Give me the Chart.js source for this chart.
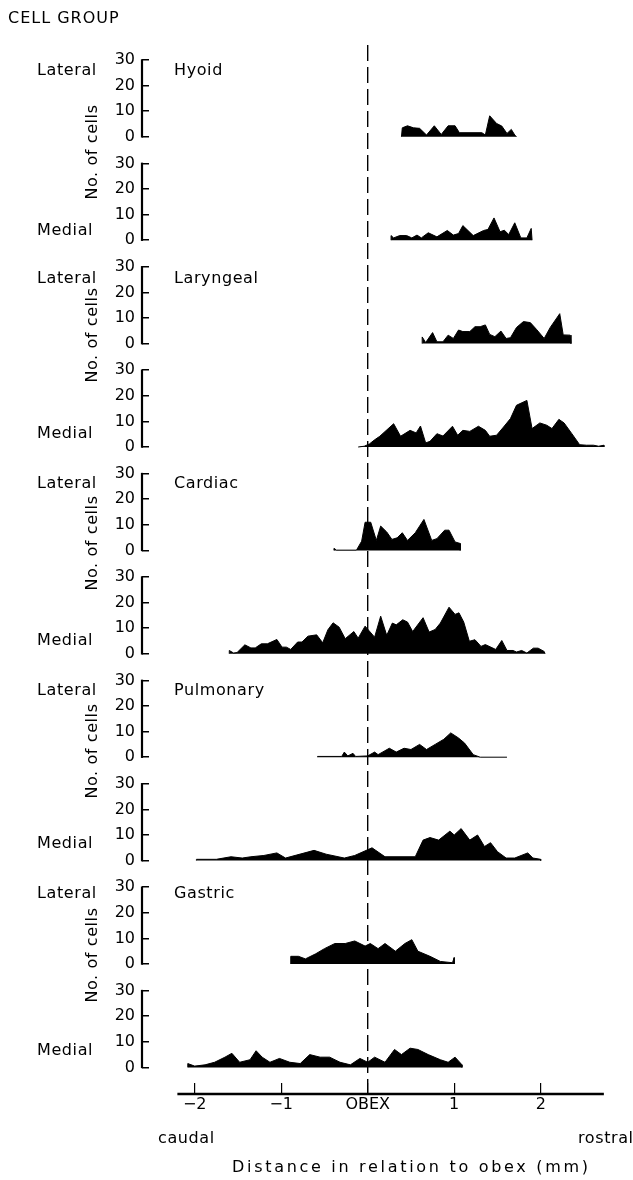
<!DOCTYPE html>
<html><head><meta charset="utf-8">
<script src="https://cdn.jsdelivr.net/npm/chart.js@4.4.1/dist/chart.umd.min.js"></script>
<style>
html,body{margin:0;padding:0;background:#fff;}
#wrap{position:relative;width:633px;height:1180px;overflow:hidden;font-family:"DejaVu Sans",sans-serif;color:#000;}
canvas{position:absolute;left:0;top:0;}
.t{position:absolute;font-size:16px;line-height:16px;white-space:nowrap;letter-spacing:0.6px;transform:translateY(-50%);}
.rot{transform:translate(-50%,-50%) rotate(-90deg);}
</style></head><body>
<div id="wrap"><canvas id="c" width="633" height="1180"></canvas></div>
<script>
// ---- data (x in mm relative to obex, y = number of cells) ----
const groups = ['Hyoid','Laryngeal','Cardiac','Pulmonary','Gastric'];
const xTickValues = [-2,-1,0,1,2];
const xTickLabels = ['\u22122','\u22121','OBEX','1','2'];
const yTickValues = [0,10,20,30];

const hyoidLateral = [[0.39,0],[0.40,3.5],[0.46,4.3],[0.53,3.5],[0.60,3.3],[0.68,0.7],[0.77,4.3],[0.85,0.9],[0.93,4.3],[1.01,4.3],[1.06,1.6],[1.32,1.6],[1.36,0.7],[1.41,8.2],[1.49,5.2],[1.55,4.2],[1.61,1.3],[1.66,2.9],[1.70,0.7],[1.72,0]];
const hyoidMedial = [[0.27,0],[0.27,1.8],[0.30,0.9],[0.37,1.8],[0.45,1.8],[0.51,0.9],[0.57,2.0],[0.62,0.9],[0.70,2.9],[0.80,1.3],[0.92,3.8],[0.99,2.0],[1.05,2.6],[1.10,5.7],[1.22,1.8],[1.34,3.8],[1.39,4.2],[1.46,8.7],[1.53,3.3],[1.58,3.9],[1.63,2.2],[1.70,6.8],[1.77,0.9],[1.84,0.9],[1.89,4.6],[1.90,0]];
const laryngealLateral = [[0.63,0],[0.63,2.6],[0.67,0.4],[0.75,4.3],[0.80,0.7],[0.87,0.7],[0.93,3.3],[0.99,2.0],[1.05,5.3],[1.10,4.7],[1.18,4.7],[1.24,6.6],[1.30,6.6],[1.36,7.3],[1.41,3.6],[1.47,2.7],[1.54,4.9],[1.60,2.0],[1.65,2.3],[1.72,6.3],[1.80,8.6],[1.88,8.2],[1.95,5.6],[2.04,2.0],[2.11,6.3],[2.22,11.7],[2.26,3.4],[2.34,3.3],[2.35,0]];
const laryngealMedial = [[-0.11,0],[-0.04,0.3],[0.02,1.2],[0.08,2.8],[0.14,4.2],[0.30,9.1],[0.38,4.2],[0.49,6.5],[0.56,5.5],[0.61,8.2],[0.67,1.6],[0.72,2.2],[0.80,5.2],[0.87,4.3],[0.98,8.1],[1.04,4.6],[1.10,6.5],[1.18,6.1],[1.28,8.1],[1.36,6.5],[1.41,4.2],[1.49,4.6],[1.57,7.8],[1.65,11.1],[1.72,16.3],[1.84,18.2],[1.90,7.2],[1.99,9.4],[2.07,8.5],[2.13,7.2],[2.21,10.8],[2.27,9.4],[2.36,5.2],[2.45,0.9],[2.53,0.7],[2.61,0.7],[2.67,0.3],[2.73,0.7],[2.73,0]];
const cardiacLateral = [[-0.39,0],[-0.39,0.8],[-0.36,0.1],[-0.13,0.1],[-0.07,3.6],[-0.03,11.0],[0.035,11.0],[0.10,3.9],[0.15,9.5],[0.22,7.2],[0.28,4.3],[0.34,4.9],[0.40,6.9],[0.46,3.9],[0.55,6.9],[0.65,12.1],[0.74,3.9],[0.80,4.6],[0.89,7.9],[0.94,7.9],[1.01,3.3],[1.07,2.7],[1.07,0]];
const cardiacMedial = [[-1.60,0],[-1.60,1.3],[-1.55,0.3],[-1.51,0.5],[-1.42,3.5],[-1.35,2.3],[-1.30,2.3],[-1.23,3.9],[-1.16,3.9],[-1.05,5.6],[-0.99,2.6],[-0.94,2.6],[-0.89,1.7],[-0.81,4.6],[-0.76,4.6],[-0.69,6.9],[-0.59,7.4],[-0.52,4.3],[-0.46,9.4],[-0.40,12.1],[-0.33,10.4],[-0.26,5.9],[-0.16,8.7],[-0.11,6.1],[-0.03,10.8],[0.08,6.5],[0.15,14.7],[0.22,7.2],[0.285,12.0],[0.33,11.3],[0.405,13.3],[0.46,12.4],[0.52,8.7],[0.64,14.1],[0.71,8.5],[0.78,9.5],[0.84,12.0],[0.94,18.2],[1.01,15.4],[1.055,16.0],[1.11,12.4],[1.175,4.9],[1.24,5.5],[1.31,2.9],[1.36,3.6],[1.48,1.7],[1.55,5.2],[1.61,1.3],[1.68,1.3],[1.72,0.7],[1.78,1.3],[1.84,0.3],[1.915,2.2],[1.97,2.2],[2.04,0.9],[2.05,0]];
const pulmonaryLateral = [[-0.58,0],[-0.58,0.3],[-0.30,0.3],[-0.27,2],[-0.23,0.5],[-0.17,1.5],[-0.14,0.3],[0.0,0.5],[0.08,2],[0.12,1],[0.25,3.5],[0.33,2],[0.42,3.5],[0.5,3],[0.6,5],[0.68,3],[0.78,5],[0.88,7],[0.96,9.5],[1.05,7.5],[1.12,5.5],[1.22,1],[1.30,0],[1.61,0]];
const pulmonaryMedial = [[-1.98,0],[-1.98,0.5],[-1.75,0.5],[-1.58,1.5],[-1.45,1],[-1.35,1.5],[-1.20,2],[-1.05,3],[-0.95,1],[-0.62,4],[-0.48,2.5],[-0.27,1],[-0.15,2],[0.05,5],[0.2,1.5],[0.55,1.5],[0.64,8],[0.72,9],[0.82,8],[0.95,11.5],[1.0,10],[1.08,12.5],[1.18,8],[1.27,10],[1.35,5.5],[1.42,7],[1.5,3.5],[1.6,1],[1.7,1],[1.85,3],[1.91,1],[2.0,0.5],[2.0,0]];
const gastricLateral = [[-0.89,0],[-0.89,3],[-0.80,3],[-0.72,2],[-0.6,4],[-0.5,6],[-0.38,8],[-0.26,8],[-0.15,9],[-0.03,7],[0.03,8],[0.12,6],[0.2,8],[0.32,5],[0.43,8],[0.51,9.5],[0.58,5],[0.72,3],[0.84,1],[0.98,0.5],[1.0,2.5],[1.0,0]];
const gastricMedial = [[-2.08,0],[-2.08,1.5],[-2.0,0.5],[-1.88,1],[-1.77,2],[-1.65,4],[-1.57,5.5],[-1.48,2],[-1.36,3],[-1.29,6.5],[-1.22,4],[-1.13,2],[-1.02,3.5],[-0.90,2],[-0.78,1.5],[-0.67,5],[-0.55,4],[-0.44,4],[-0.32,2],[-0.2,1],[-0.09,3.5],[0.0,2],[0.08,4],[0.2,2],[0.31,7],[0.39,5],[0.49,7.5],[0.58,7],[0.70,5],[0.84,3],[0.93,2],[1.01,4],[1.09,1],[1.09,0]];

const panels = [hyoidLateral, hyoidMedial, laryngealLateral, laryngealMedial, cardiacLateral, cardiacMedial, pulmonaryLateral, pulmonaryMedial, gastricLateral, gastricMedial];
const panelIds = panels.map((_, i) => 'y' + i);

// ---- chart ----
const FONT = {family: '"DejaVu Sans", sans-serif', size: 16};
const X_MIN = -2.609, X_MAX = 2.824, AXIS_FROM = -2.2, AXIS_TO = 2.73;
const Y_MIN = -10.39, Y_MAX = 30;

const scales = {
  x: {
    type: 'linear', position: 'bottom', min: X_MIN, max: X_MAX,
    border: {display: false},
    grid: {display: true, drawOnChartArea: false, drawTicks: true, tickLength: -11, color: '#000', lineWidth: 1.2},
    ticks: {color: '#000', font: FONT, padding: 12, maxRotation: 0, autoSkip: false,
      callback: (v, i) => xTickLabels[i]},
    afterBuildTicks: s => { s.ticks = xTickValues.map(v => ({value: v})); },
    afterFit: s => { s.height = 86; }
  }
};
// stacked axes are laid out in reverse definition order, so define bottom panel first
panelIds.slice().reverse().forEach(id => {
  scales[id] = {
    type: 'linear', position: 'left', stack: 'panels', stackWeight: 1,
    min: Y_MIN, max: Y_MAX,
    border: {display: false},
    grid: {display: true, drawOnChartArea: false, drawTicks: true, tickLength: -7, color: '#000', lineWidth: 1.5},
    ticks: {color: '#000', font: FONT, padding: 14, includeBounds: false, autoSkip: false, callback: v => String(v)},
    afterBuildTicks: s => { s.ticks = yTickValues.map(v => ({value: v})); },
    afterFit: s => { s.width = 142; }
  };
});

const decor = {
  id: 'decor',
  afterDatasetsDraw(chart) {
    const ctx = chart.ctx, xs = chart.scales.x;
    ctx.save();
    ctx.strokeStyle = '#000';
    ctx.lineCap = 'butt';
    panelIds.forEach(id => {
      const s = chart.scales[id];
      ctx.lineWidth = 2.2;
      ctx.beginPath();
      ctx.moveTo(s.right, s.getPixelForValue(0) + 0.75);
      ctx.lineTo(s.right, s.getPixelForValue(30) - 0.75);
      ctx.stroke();
    });
    const yAxis = xs.top;
    ctx.lineWidth = 2.6;
    ctx.beginPath();
    ctx.moveTo(xs.getPixelForValue(AXIS_FROM), yAxis);
    ctx.lineTo(xs.getPixelForValue(AXIS_TO), yAxis);
    ctx.stroke();
    const x0 = xs.getPixelForValue(0);
    ctx.lineWidth = 1.4;
    ctx.setLineDash([16, 6]);
    ctx.beginPath();
    ctx.moveTo(x0, chart.chartArea.top - 15);
    ctx.lineTo(x0, yAxis);
    ctx.stroke();
    ctx.restore();
  }
};

new Chart(document.getElementById('c'), {
  type: 'line',
  data: {
    datasets: panels.map((p, i) => ({
      label: panelIds[i],
      yAxisID: panelIds[i],
      data: p.map(([x, y]) => ({x, y})),
      borderColor: '#000', backgroundColor: '#000', borderWidth: 1,
      pointRadius: 0, tension: 0, fill: 'origin'
    }))
  },
  options: {
    responsive: false, animation: false,
    layout: {padding: {top: 60, right: 21, left: 0, bottom: 0}},
    plugins: {legend: {display: false}, tooltip: {enabled: false}, title: {display: false}},
    scales
  },
  plugins: [decor]
});

// ---- text annotations ----
const wrap = document.getElementById('wrap');
function addText(txt, x, y, cls, extra) {
  const d = document.createElement('div');
  d.className = 't ' + (cls || '');
  d.textContent = txt;
  d.style.left = x + 'px';
  d.style.top = y + 'px';
  if (extra) Object.assign(d.style, extra);
  wrap.appendChild(d);
}
addText('CELL GROUP', 8, 18, '', {letterSpacing: '1px'});
const latY = [70, 278, 483, 690, 893];
const medY = [230, 433, 640, 843, 1050];
const cellsY = [152, 335, 543, 751, 955];
groups.forEach((g, i) => {
  addText('Lateral', 37, latY[i]);
  addText('Medial', 37, medY[i]);
  addText(g, 174, latY[i]);
  addText('No. of cells', 92, cellsY[i], 'rot');
});
addText('caudal', 158, 1138);
addText('rostral', 578, 1138);
addText('Distance in relation to obex (mm)', 232, 1167, '', {letterSpacing: '2.7px'});
</script>
</body></html>
